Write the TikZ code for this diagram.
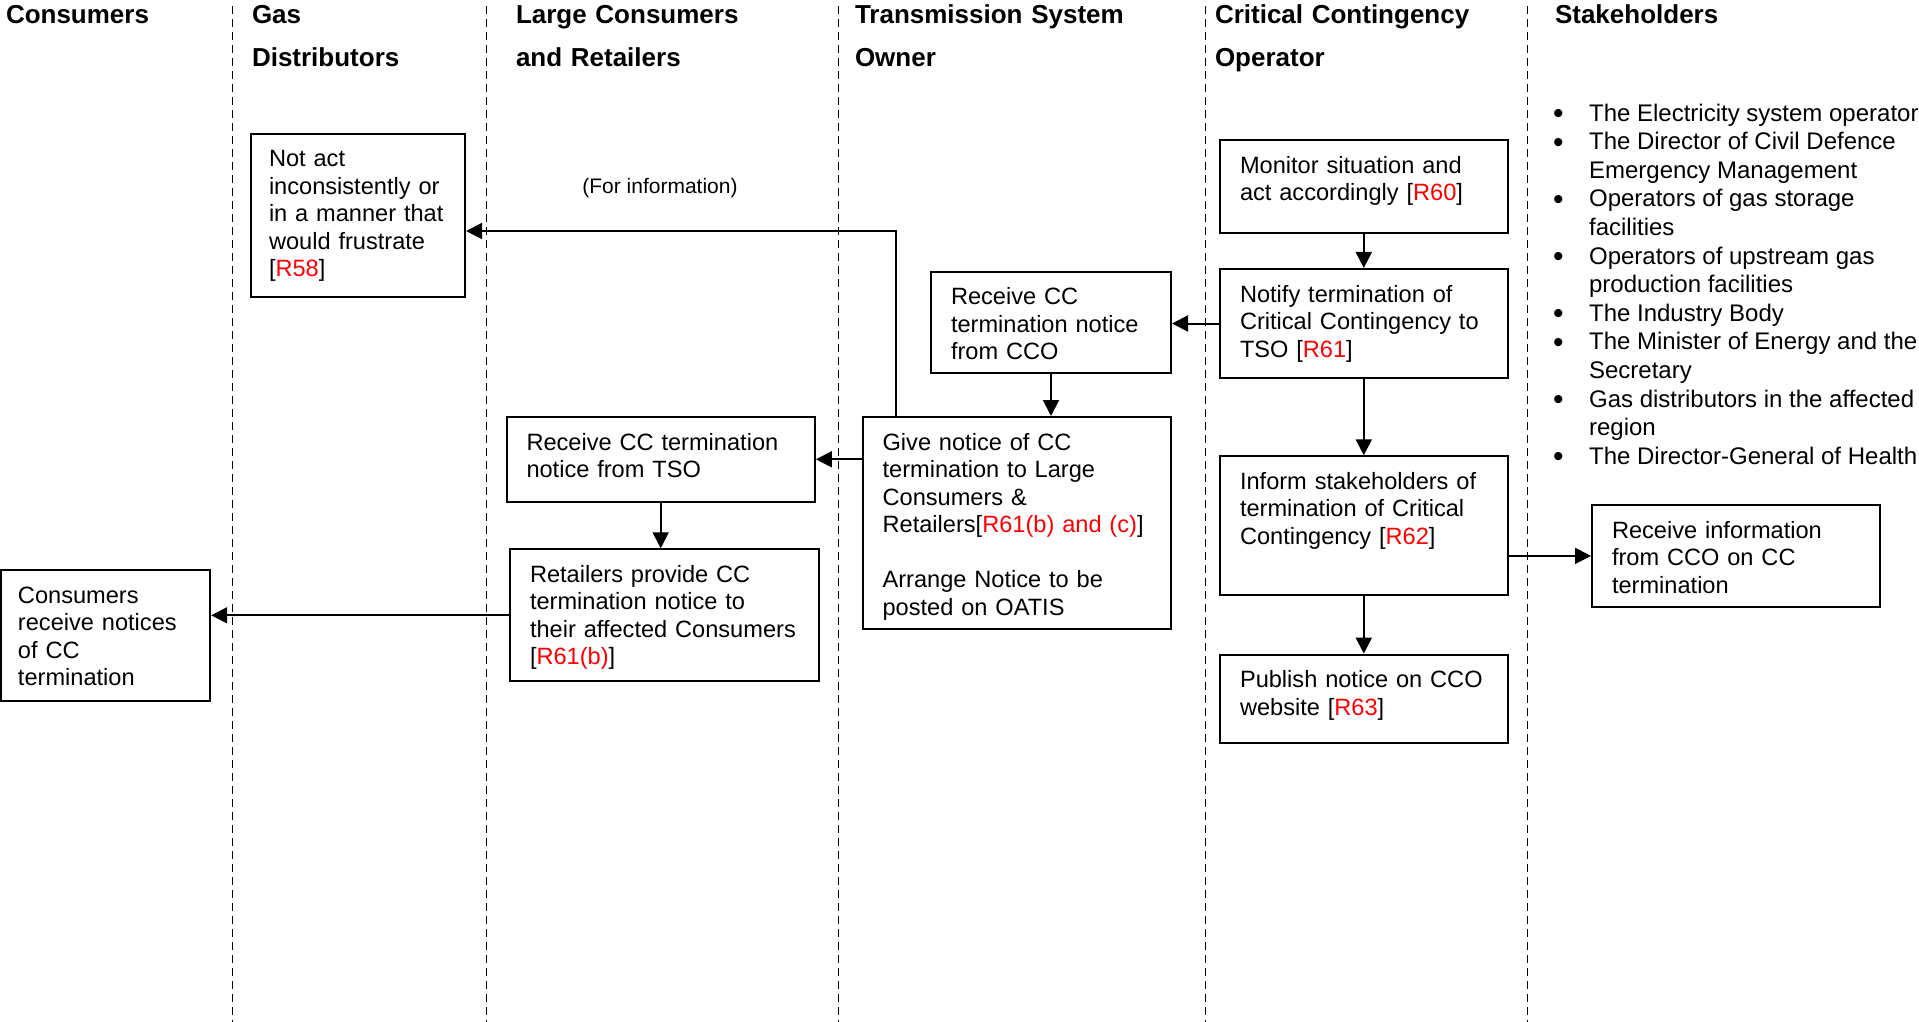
\documentclass[tikz,border=0pt]{standalone}
\usepackage{fontspec}
\setmainfont{Liberation Sans}
\usetikzlibrary{arrows.meta}
\newcommand{\rref}[1]{\textcolor{red}{#1}}
\newcommand{\bigbullet}{\smash{\raisebox{-1.3pt}{\fontsize{15}{14.3}\selectfont\textbullet}}}

\begin{document}
\begin{tikzpicture}
            [>={Triangle[length=8pt,width=8pt]}, x=0.5pt, y=-0.5pt, line width=1pt,
             stepbox/.style={draw=black, anchor=north west, align=left, inner xsep=10pt, inner ysep=8pt,
                 text height=8.5pt, font=\fontsize{11.8}{13.75}\selectfont},
             lane/.style={line width=0.5pt, dash pattern=on 4pt off 2.5pt},
             head/.style={anchor=base west, inner sep=0pt, text width=200pt, align=left,
                 font=\fontsize{13}{21.4}\selectfont\bfseries}]
            \useasboundingbox (0, 0) rectangle (1919, 1022);

            % swim lanes
            \draw[lane] (232.5, 6) -- (232.5, 1022);
            \draw[lane] (486, 6) -- (486, 1022);
            \draw[lane] (838, 6) -- (838, 1022);
            \draw[lane] (1205.5, 6) -- (1205.5, 1022);
            \draw[lane] (1527, 6) -- (1527, 1022);

            \node[head] (hcons) at (5, 24) {Consumers};
            \node[head] (hgas) at (251, 24) {Gas\\Distributors};
            \node[head] (hlarge) at (515, 24) {Large Consumers\\and Retailers};
            \node[head] (htso) at (854, 24) {Transmission System\\Owner};
            \node[head] (hcco) at (1214, 24) {Critical Contingency\\Operator};
            \node[head] (hstake) at (1554, 24) {Stakeholders};

            % steps
            \node[stepbox, text width=89pt, inner xsep=9pt, text depth=57pt] (r58) at (250, 133)
                {Not act\\inconsistently or\\in a manner that\\would frustrate\\{[}\rref{R58}{]}};
            \node[stepbox, text width=123.8pt, text depth=22pt] (monitor) at (1219, 139.5)
                {Monitor situation and\\act accordingly {[}\rref{R60}{]}};
            \node[stepbox, text width=123.8pt, text depth=30pt] (notify) at (1219, 268)
                {Notify termination of\\Critical Contingency to\\TSO {[}\rref{R61}{]}};
            \node[stepbox, text width=100pt, text depth=26.3pt] (rcco) at (930, 270.5)
                {Receive CC\\termination notice\\from CCO};
            \node[stepbox, text width=134.2pt, text depth=81.5pt] (givenotice) at (861.6, 416)
                {Give notice of CC\\termination to Large\\Consumers \&\\Retailers{[}\rref{R61(b) and (c)}{]}\\[13.75pt]Arrange Notice to be\\posted on OATIS};
            \node[stepbox, text width=134.2pt, text depth=17.8pt] (rtso) at (505.5, 416)
                {Receive CC termination\\notice from TSO};
            \node[stepbox, text width=134.3pt, text depth=41.5pt] (retail) at (509, 548.3)
                {Retailers provide CC\\termination notice to\\their affected Consumers\\{[}\rref{R61(b)}{]}};
            \node[stepbox, text width=87.6pt, text depth=41pt, inner xsep=8.5pt] (consrecv) at (0, 569)
                {Consumers\\receive notices\\of CC\\termination};
            \node[stepbox, text width=123.8pt, text depth=44.7pt] (inform) at (1219, 455.3)
                {Inform stakeholders of\\termination of Critical\\Contingency {[}\rref{R62}{]}};
            \node[stepbox, text width=123.8pt, text depth=19.5pt] (publish) at (1219, 653.6)
                {Publish notice on CCO\\website {[}\rref{R63}{]}};
            \node[stepbox, text width=123.8pt, text depth=26.4pt] (rinfo) at (1591, 504)
                {Receive information\\from CCO on CC\\termination};

            \node[anchor=north west, inner sep=0pt, font=\fontsize{12}{14.3}\selectfont] (stakelist) at (1552, 100)
                {\begin{tabular}{@{}l@{\hspace{12.8pt}}l@{}}
                 \bigbullet & The Electricity system operator\\
                 \bigbullet & The Director of Civil Defence\\
                            & Emergency Management\\
                 \bigbullet & Operators of gas storage\\
                            & facilities\\
                 \bigbullet & Operators of upstream gas\\
                            & production facilities\\
                 \bigbullet & The Industry Body\\
                 \bigbullet & The Minister of Energy and the\\
                            & Secretary\\
                 \bigbullet & Gas distributors in the affected\\
                            & region\\
                 \bigbullet & The Director-General of Health
                 \end{tabular}};

            % flow
            \draw[->] (monitor) -- (notify);
            \draw[->] (notify.west) -- (notify.west -| rcco.east);
            \draw[->] (rcco) -- (rcco |- givenotice.north);
            \draw[->] (notify) -- (inform);
            \draw[->] (inform) -- (publish);
            \draw[->] (rinfo.west -| inform.east) -- (rinfo.west);
            \draw[->] (rtso.east -| givenotice.west) -- (rtso.east);
            \draw[->] (rtso) -- (rtso |- retail.north);
            \draw[->] (retail.west) -- (retail.west -| consrecv.east);
            \coordinate (infocorner) at (896, 231);
            \draw[->] (givenotice.north -| infocorner) -- (infocorner) -- (infocorner -| r58.east);
            \node[font=\fontsize{10.5}{12}\selectfont] (forinfo) at (660, 188) {(For information)};
        \end{tikzpicture}
\end{document}
